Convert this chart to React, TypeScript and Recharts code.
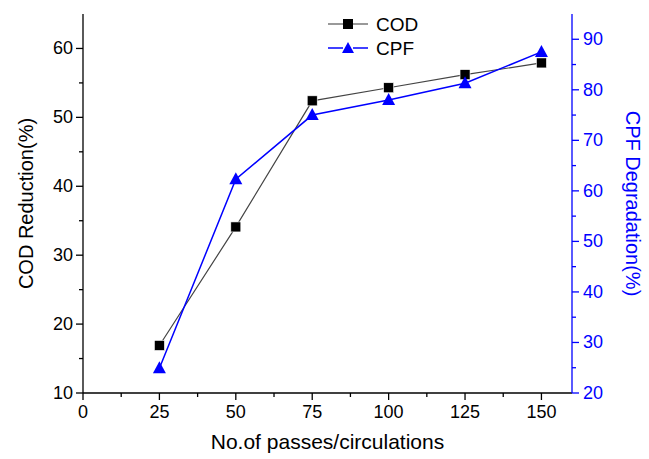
import { LineChart, Line, XAxis, YAxis } from "recharts";

const passes = [25, 50, 75, 100, 125, 150];
const codReduction = [16.9, 34.1, 52.4, 54.3, 56.2, 57.9];
const cpfDegradation = [24.9, 62.3, 75.0, 78.0, 81.3, 87.5];

const xTicks = [0, 12.5, 25, 37.5, 50, 62.5, 75, 87.5, 100, 112.5, 125, 137.5, 150];
const leftTicks = [10, 15, 20, 25, 30, 35, 40, 45, 50, 55, 60];
const rightTicks = [20, 25, 30, 35, 40, 45, 50, 55, 60, 65, 70, 75, 80, 85, 90];

const BLUE = "#0000FF";
const FONT = "'Liberation Sans', Arial, sans-serif";

const data = passes.map((p, i) => ({ p, cod: codReduction[i], cpf: cpfDegradation[i] }));

const isMajor = (v: number, step: number) => Math.abs(v / step - Math.round(v / step)) < 1e-6;

function BottomTick({ x, y, payload }: any) {
  const major = isMajor(payload.value, 25);
  return (
    <g>
      <line x1={x} x2={x} y1={y} y2={y + (major ? 7 : 4)} stroke="#000" strokeWidth={1.3} />
      {major && (
        <text x={x} y={y + 25} textAnchor="middle" fontSize={18} fontFamily={FONT} fill="#000">
          {payload.value}
        </text>
      )}
    </g>
  );
}

function TopTick({ x, y, payload }: any) {
  const major = isMajor(payload.value, 25);
  return <line x1={x} x2={x} y1={y} y2={y + (major ? 7 : 4)} stroke="#000" strokeWidth={1.3} />;
}

function LeftTick({ x, y, payload }: any) {
  const major = isMajor(payload.value, 10);
  return (
    <g>
      <line x1={x - (major ? 7 : 4)} x2={x} y1={y} y2={y} stroke="#000" strokeWidth={1.3} />
      {major && (
        <text x={x - 10} y={y + 6} textAnchor="end" fontSize={18} fontFamily={FONT} fill="#000">
          {payload.value}
        </text>
      )}
    </g>
  );
}

function RightTick({ x, y, payload }: any) {
  const major = isMajor(payload.value, 10);
  return (
    <g>
      <line x1={x} x2={x + (major ? 7 : 4)} y1={y} y2={y} stroke={BLUE} strokeWidth={1.3} />
      {major && (
        <text x={x + 11} y={y + 6} textAnchor="start" fontSize={18} fontFamily={FONT} fill={BLUE}>
          {payload.value}
        </text>
      )}
    </g>
  );
}

function SquareDot({ cx, cy, index }: any) {
  return <rect key={`s${index}`} x={cx - 5} y={cy - 5} width={10} height={10} fill="#000" stroke="#fff" strokeWidth={0.6} />;
}

function TriangleDot({ cx, cy, index }: any) {
  return <path key={`t${index}`} d={`M${cx},${cy - 7} L${cx + 6.5},${cy + 5} L${cx - 6.5},${cy + 5} Z`} fill={BLUE} />;
}

function LegendBox() {
  return (
    <svg width={110} height={50} style={{ position: "absolute", left: 328, top: 12, overflow: "visible" }}>
      <line x1={0} x2={15} y1={12} y2={12} stroke="#777" strokeWidth={1.5} />
      <line x1={25} x2={40} y1={12} y2={12} stroke="#777" strokeWidth={1.5} />
      <rect x={15} y={7} width={10} height={10} fill="#000" />
      <text x={48} y={19} fontSize={19} fontFamily={FONT} fill="#000">COD</text>
      <line x1={0} x2={15} y1={36} y2={36} stroke={BLUE} strokeWidth={1.5} />
      <line x1={25} x2={40} y1={36} y2={36} stroke={BLUE} strokeWidth={1.5} />
      <path d="M20,30 L26,41 L14,41 Z" fill={BLUE} />
      <text x={48} y={43} fontSize={19} fontFamily={FONT} fill="#000">CPF</text>
    </svg>
  );
}

export default function App() {
  return (
    <div style={{ position: "absolute", left: 0, top: 0, width: 649, height: 459, background: "#fff" }}>
      <LineChart width={649} height={459} data={data} margin={{ top: 14, right: 0, bottom: 0, left: 0 }}>
        <XAxis
          xAxisId="b"
          dataKey="p"
          type="number"
          domain={[0, 160]}
          ticks={xTicks}
          interval={0}
          height={66}
          tickSize={0}
          tickMargin={0}
          tick={<BottomTick />}
          stroke="#000"
          strokeWidth={1.3}
          label={{
            value: "No.of passes/circulations",
            position: "insideBottom",
            offset: 10,
            fontSize: 21,
            fontFamily: FONT,
            fill: "#000",
          }}
        />
        <XAxis
          xAxisId="t"
          orientation="top"
          dataKey="p"
          type="number"
          domain={[0, 160]}
          ticks={xTicks}
          interval={0}
          height={0}
          tickSize={0}
          tickMargin={0}
          tick={<TopTick />}
          stroke="#000"
          strokeWidth={1.3}
        />
        <YAxis
          yAxisId="l"
          type="number"
          domain={[10, 65]}
          ticks={leftTicks}
          interval={0}
          width={83}
          tickSize={0}
          tickMargin={0}
          tick={<LeftTick />}
          stroke="#000"
          strokeWidth={1.3}
          label={{
            value: "COD Reduction(%)",
            angle: -90,
            position: "insideLeft",
            offset: 26,
            style: { textAnchor: "middle" },
            fontSize: 20,
            fontFamily: FONT,
            fill: "#000",
          }}
        />
        <YAxis
          yAxisId="r"
          orientation="right"
          type="number"
          domain={[20, 95]}
          ticks={rightTicks}
          interval={0}
          width={77}
          tickSize={0}
          tickMargin={0}
          tick={<RightTick />}
          stroke={BLUE}
          strokeWidth={1.3}
          label={{
            value: "CPF Degradation(%)",
            angle: 90,
            position: "insideRight",
            offset: 16,
            style: { textAnchor: "middle" },
            fontSize: 20,
            fontFamily: FONT,
            fill: BLUE,
          }}
        />
        <Line
          xAxisId="b"
          yAxisId="l"
          dataKey="cod"
          stroke="#444"
          strokeWidth={1.2}
          dot={<SquareDot />}
          isAnimationActive={false}
        />
        <Line
          xAxisId="b"
          yAxisId="r"
          dataKey="cpf"
          stroke={BLUE}
          strokeWidth={1.5}
          dot={<TriangleDot />}
          isAnimationActive={false}
        />
      </LineChart>
      <LegendBox />
    </div>
  );
}
